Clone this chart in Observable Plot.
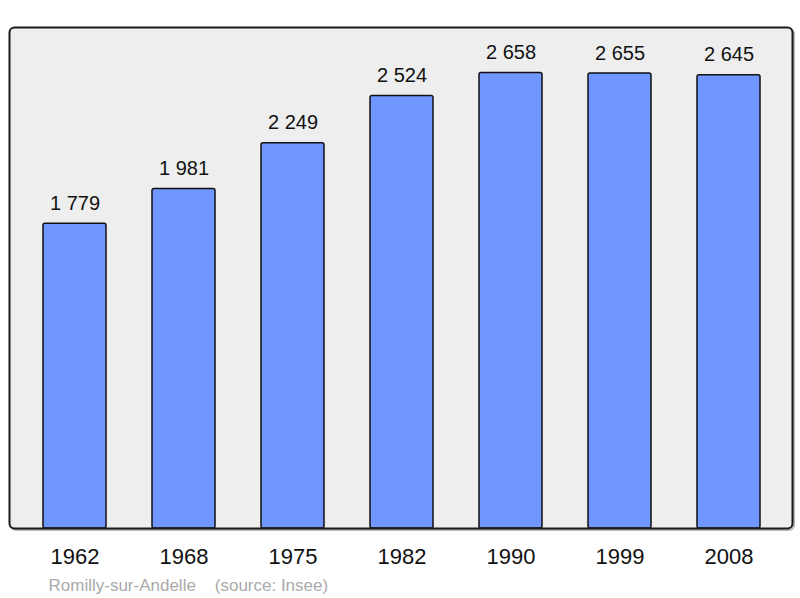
<!DOCTYPE html>
<html>
<head>
<meta charset="utf-8">
<script src="https://cdn.jsdelivr.net/npm/d3@7"></script>
<script src="https://cdn.jsdelivr.net/npm/@observablehq/plot@0.6"></script>
<style>
  html, body { margin: 0; padding: 0; background: #fff; }
  #chart { width: 800px; height: 598px; }
  svg { font-family: "Liberation Sans", Arial, sans-serif; }
</style>
</head>
<body>
<div id="chart"></div>
<script>
const years = ["1962", "1968", "1975", "1982", "1990", "1999", "2008"];
const population = [1779, 1981, 2249, 2524, 2658, 2655, 2645];
const valueLabels = ["1 779", "1 981", "2 249", "2 524", "2 658", "2 655", "2 645"];
const caption = "Romilly-sur-Andelle    (source: Insee)";

const data = years.map((y, i) => ({year: y, pop: population[i], label: valueLabels[i]}));

const chart = Plot.plot({
  width: 800,
  height: 598,
  marginLeft: 9,
  marginRight: 8,
  marginTop: 27,
  marginBottom: 70,
  style: {fontFamily: "'Liberation Sans', Arial, sans-serif", background: "#fff"},
  x: {domain: years, range: [18.25, 784.75], paddingInner: 0.425, paddingOuter: 0.2125, label: null},
  y: {domain: [0, 2924], axis: null},
  marks: [
    Plot.frame({fill: "none", stroke: "#999", strokeWidth: 2, rx: 5, dx: 1.5, dy: 1.5, strokeOpacity: 0.7}),
    Plot.frame({fill: "#eeeeee", stroke: "none", rx: 5}),
    Plot.barY(data, {x: "year", y: "pop", fill: "#7096ff", stroke: "#111", strokeWidth: 1.5, rx: 2}),
    Plot.text(data, {x: "year", y: "pop", text: "label", lineAnchor: "bottom", dy: -14, fontSize: 20, fill: "#111"}),
    Plot.frame({fill: "none", stroke: "#1a1a1a", strokeWidth: 2, rx: 5}),
    Plot.axisX({tickSize: 0, tickPadding: 20, fontSize: 22, label: null, fill: "#111"}),
    Plot.text([caption], {frameAnchor: "bottom-left", text: d => d, textAnchor: "start", lineAnchor: "bottom", dx: 39, dy: 62, fontSize: 17, fill: "#aaaaaa", style: "white-space: pre"})
  ]
});
document.getElementById("chart").appendChild(chart);
</script>
</body>
</html>
